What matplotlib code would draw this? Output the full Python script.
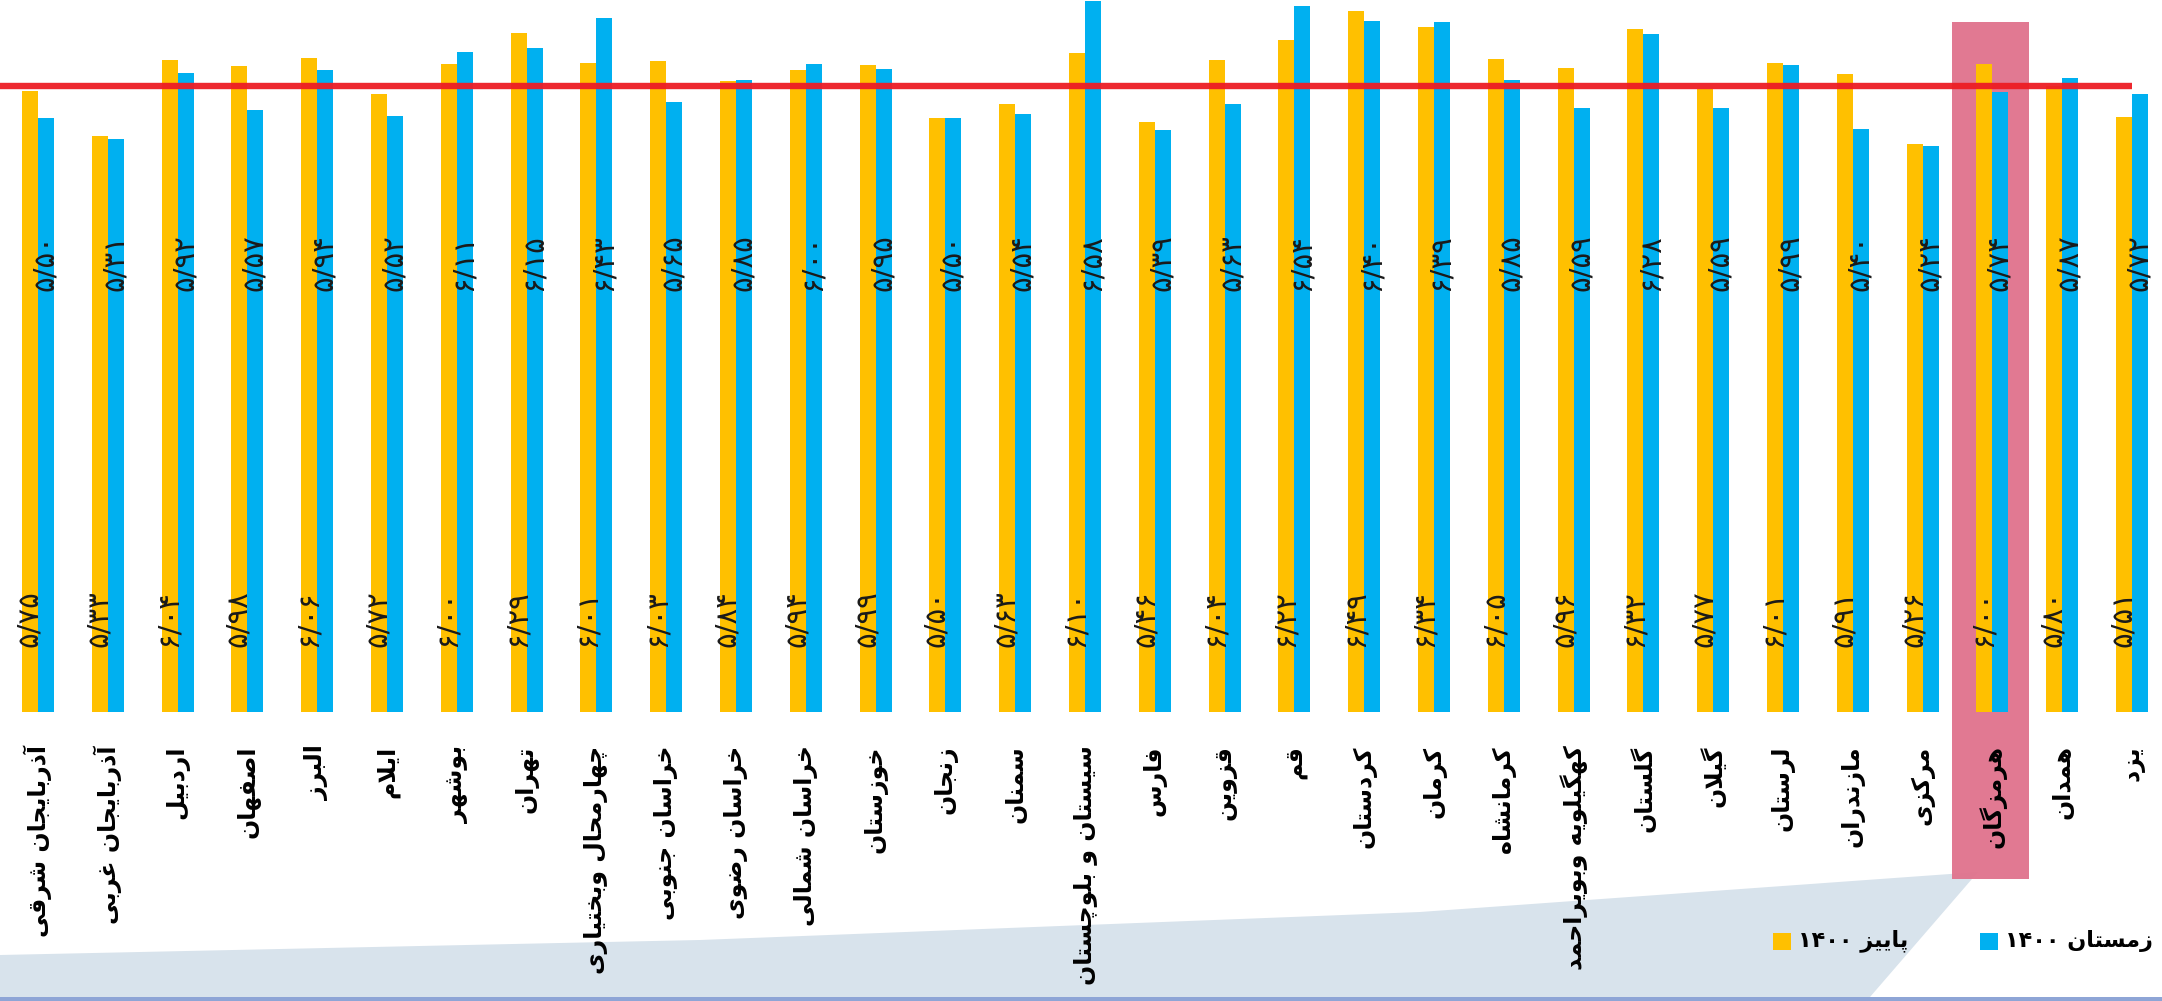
import re
import numpy as np
import matplotlib
matplotlib.use('Agg')
import matplotlib.pyplot as plt
from matplotlib.patches import Rectangle, Polygon
from matplotlib.transforms import blended_transform_factory

# provinces, left to right
provinces = ['آذربایجان شرقی', 'آذربایجان غربی', 'اردبیل', 'اصفهان', 'البرز', 'ایلام',
             'بوشهر', 'تهران', 'چهارمحال وبختیاری', 'خراسان جنوبی', 'خراسان رضوی',
             'خراسان شمالی', 'خوزستان', 'زنجان', 'سمنان', 'سیستان و بلوچستان', 'فارس',
             'قزوین', 'قم', 'کردستان', 'کرمان', 'کرمانشاه', 'کهگیلویه وبویراحمد', 'گلستان',
             'گیلان', 'لرستان', 'مازندران', 'مرکزی', 'هرمزگان', 'همدان', 'یزد']

autumn = [5.75, 5.33, 6.04, 5.98, 6.06, 5.72, 6.00, 6.29, 6.01, 6.03, 5.84,
          5.94, 5.99, 5.50, 5.63, 6.10, 5.46, 6.04, 6.22, 6.49, 6.34, 6.05,
          5.96, 6.32, 5.77, 6.01, 5.91, 5.26, 6.00, 5.80, 5.51]
winter = [5.50, 5.31, 5.92, 5.57, 5.94, 5.52, 6.11, 6.15, 6.43, 5.65, 5.85,
          6.00, 5.95, 5.50, 5.54, 6.58, 5.39, 5.63, 6.54, 6.40, 6.39, 5.85,
          5.59, 6.28, 5.59, 5.99, 5.40, 5.24, 5.74, 5.87, 5.72]
avg_line = 5.80
highlight = 'هرمزگان'
legend_labels = ['پاییز ۱۴۰۰', 'زمستان ۱۴۰۰']

ORANGE = '#FFC000'
BLUE = '#00B0F0'
RED = '#ED1C24'

# presentation forms: isolated, final, (initial, medial)
FORMS = {
    'ا': '\uFE8D\uFE8E', 'آ': '\uFE81\uFE82', 'د': '\uFEA9\uFEAA', 'ذ': '\uFEAB\uFEAC',
    'ر': '\uFEAD\uFEAE', 'ز': '\uFEAF\uFEB0', 'و': '\uFEED\uFEEE',
    'ب': '\uFE8F\uFE90\uFE91\uFE92', 'پ': '\uFB56\uFB57\uFB58\uFB59',
    'ت': '\uFE95\uFE96\uFE97\uFE98', 'ج': '\uFE9D\uFE9E\uFE9F\uFEA0',
    'چ': '\uFB7A\uFB7B\uFB7C\uFB7D', 'ح': '\uFEA1\uFEA2\uFEA3\uFEA4',
    'خ': '\uFEA5\uFEA6\uFEA7\uFEA8', 'س': '\uFEB1\uFEB2\uFEB3\uFEB4',
    'ش': '\uFEB5\uFEB6\uFEB7\uFEB8', 'ص': '\uFEB9\uFEBA\uFEBB\uFEBC',
    'ض': '\uFEBD\uFEBE\uFEBF\uFEC0', 'غ': '\uFECD\uFECE\uFECF\uFED0',
    'ف': '\uFED1\uFED2\uFED3\uFED4', 'ق': '\uFED5\uFED6\uFED7\uFED8',
    'ک': '\uFB8E\uFB8F\uFB90\uFB91', 'گ': '\uFB92\uFB93\uFB94\uFB95',
    'ل': '\uFEDD\uFEDE\uFEDF\uFEE0', 'م': '\uFEE1\uFEE2\uFEE3\uFEE4',
    'ن': '\uFEE5\uFEE6\uFEE7\uFEE8', 'ه': '\uFEE9\uFEEA\uFEEB\uFEEC',
    'ی': '\uFBFC\uFBFD\uFBFE\uFBFF',
}
LAM_ALEF = {'ا': '\uFEFB\uFEFC', 'آ': '\uFEF5\uFEF6'}


def fa(text):
    # join letters and turn into left-to-right visual order
    out = []
    i = 0
    while i < len(text):
        c = text[i]
        if c not in FORMS:
            out.append(c)
            i += 1
            continue
        prev = text[i - 1] if i > 0 else ''
        p = len(FORMS.get(prev, '')) == 4
        nxt = text[i + 1] if i + 1 < len(text) else ''
        if c == 'ل' and nxt in LAM_ALEF:
            out.append(LAM_ALEF[nxt][1 if p else 0])
            i += 2
            continue
        f = FORMS[c]
        if len(f) == 2:
            out.append(f[1 if p else 0])
        else:
            q = nxt in FORMS
            out.append(f[{(False, False): 0, (True, False): 1,
                          (False, True): 2, (True, True): 3}[(p, q)]])
        i += 1
    s = ''.join(out)[::-1]
    return re.sub(r'[۰-۹0-9/]+', lambda m: m.group(0)[::-1], s)


def fa_num(v):
    return f'{v:.2f}'.replace('.', '/').translate(str.maketrans('0123456789', '۰۱۲۳۴۵۶۷۸۹'))


plt.rcParams['font.family'] = ['DejaVu Sans']

W, H = 2162, 1001
fig = plt.figure(figsize=(W / 100, H / 100), dpi=100)
fig.patch.set_facecolor('white')

# light band at the bottom, kept under the axes
band = [(0, 955), (700, 940), (1420, 912), (1978, 872), (1870, 997), (0, 997)]
fig.patches.append(Polygon([(x / W, 1 - y / H) for x, y in band], closed=True,
                           transform=fig.transFigure, facecolor='#D8E3EC',
                           edgecolor='none', zorder=-2))
fig.patches.append(Rectangle((0, 0), 1, 4 / H, transform=fig.transFigure,
                             facecolor='#8EA5D6', edgecolor='none', zorder=-2))

ax = fig.add_axes([0, 1 - 712 / H, 1, 712 / H])
ax.set_facecolor('none')
x = np.arange(len(provinces))
step = 69.8
ax.set_xlim(-38 / step, (W - 38) / step)
ax.set_ylim(0, 712 / 108)
ax.axis('off')

w = 16 / step
ax.bar(x - w / 2, autumn, w, color=ORANGE, zorder=2)
ax.bar(x + w / 2, winter, w, color=BLUE, zorder=2)

ax.plot([ax.get_xlim()[0], x[-1]], [avg_line, avg_line], color=RED, lw=4.6,
        alpha=0.95, solid_capstyle='butt', zorder=4)

# highlighted province
hi = provinces.index(highlight)
tr = blended_transform_factory(ax.transData, fig.transFigure)
ax.add_patch(Rectangle((hi - 0.58, 1 - 879 / H), 1.1, (879 - 22) / H, transform=tr,
                       facecolor='#E0728C', edgecolor='none', alpha=0.95,
                       zorder=1, clip_on=False))

for i in x:
    ax.text(i - 0.13, 0.86, fa_num(autumn[i]), rotation=90, ha='center', va='center',
            fontsize=21, color='#1a1a1a', zorder=5)
    ax.text(i + 0.10, 4.16, fa_num(winter[i]), rotation=90, ha='center', va='center',
            fontsize=21, color='#1a1a1a', zorder=5)
    ax.text(i, -0.31, fa(provinces[i]), rotation=90, ha='center', va='top',
            fontsize=17, fontweight='bold', color='black', zorder=5)

# legend
for (sx, col), lab in zip([(1773, ORANGE), (1980, BLUE)], legend_labels):
    fig.patches.append(Rectangle((sx / W, 1 - 950 / H), 18 / W, 17 / H,
                                 transform=fig.transFigure, facecolor=col,
                                 edgecolor='none', zorder=3))
    fig.text((sx + 25) / W, 1 - 941 / H, fa(lab), ha='left', va='center',
             fontsize=16, fontweight='bold', color='black')

fig.savefig('out.png', dpi=100)
